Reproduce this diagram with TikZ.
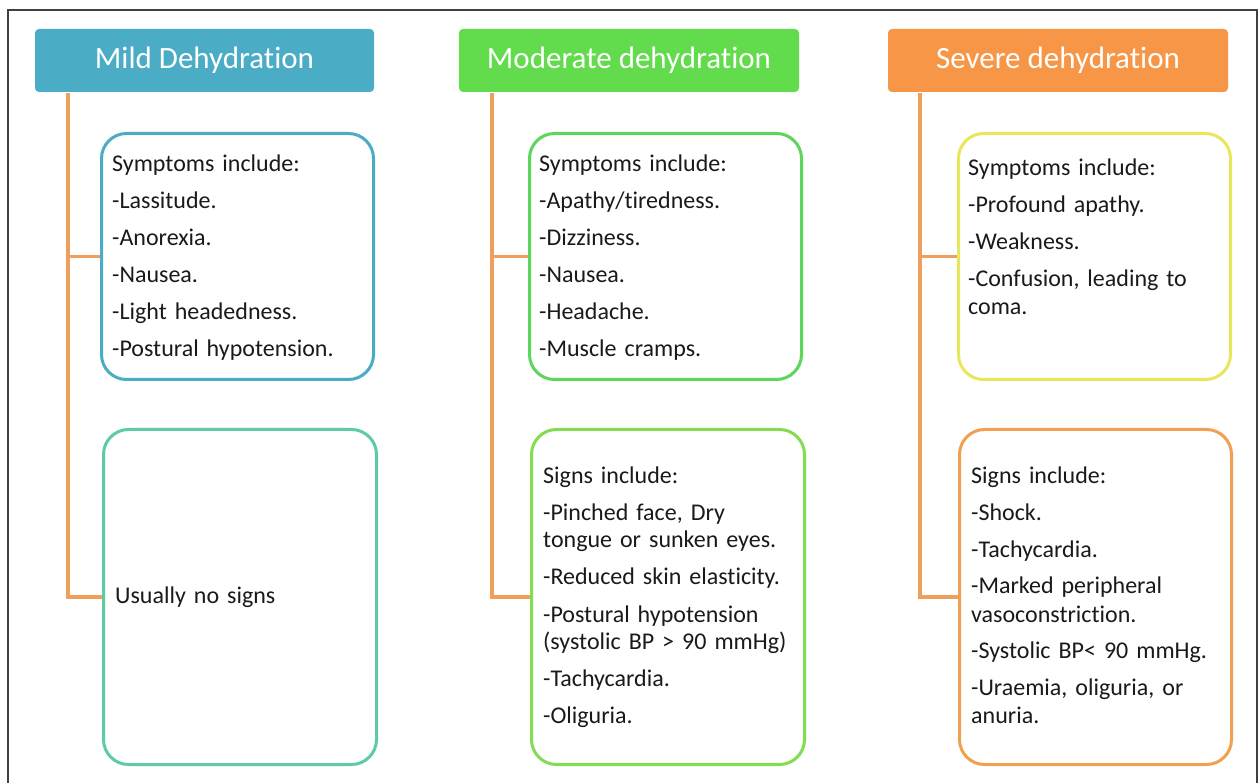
\documentclass[tikz,border=0pt]{standalone}
\usepackage{fontspec}
\setmainfont{Carlito}[Ligatures=NoCommon]
\definecolor{hmild}{HTML}{4BACC6}
\definecolor{hmod}{HTML}{62DC4C}
\definecolor{hsev}{HTML}{F79646}
\definecolor{conn}{HTML}{EE9F5C}
\definecolor{bA}{HTML}{4BACC6}
\definecolor{bB}{HTML}{5DCCA0}
\definecolor{bC}{HTML}{5CD65C}
\definecolor{bD}{HTML}{84DC50}
\definecolor{bE}{HTML}{E6E85A}
\definecolor{bF}{HTML}{F0A050}
\definecolor{txt}{HTML}{1A1A1A}
\definecolor{framec}{HTML}{404040}
\tikzset{
  header/.style={fill=#1, rounded corners=4pt, minimum height=63pt, text=white,
    font=\fontsize{31}{36}\selectfont, inner sep=0pt},
  infobox/.style={draw=#1, line width=3pt, rounded corners=25pt, inner sep=0pt},
  listtext/.style={anchor=base west, inner sep=0pt, text width=270pt, align=left,
    text=txt, font=\fontsize{24}{28}\selectfont},
  connline/.style={draw=conn, line width=3.5pt},
  framestyle/.style={draw=framec, line width=1.5pt}
}
\begin{document}
\begin{tikzpicture}[x=1pt,y=-1pt]
\useasboundingbox (0,0) rectangle (1259,783);
\fill[white] (0,0) rectangle (1259,783);
\draw[framestyle] (8,783) -- (8,10) -- (1257,10) -- (1257,783);

% headers
\node[header=hmild, minimum width=339pt] (h1) at (204.5,60.5) {Mild Dehydration};
\node[header=hmod, minimum width=340pt] (h2) at (629,60.5) {Moderate dehydration};
\node[header=hsev, minimum width=340pt] (h3) at (1058,60.5) {Severe dehydration};

% boxes
\node[infobox=bA, minimum width=272pt, minimum height=246pt] (s1) at (237.5,256.5) {};
\node[infobox=bB, minimum width=273pt, minimum height=335pt] (g1) at (240,597) {};
\node[infobox=bC, minimum width=272pt, minimum height=246pt] (s2) at (665.5,256.5) {};
\node[infobox=bD, minimum width=273pt, minimum height=335pt] (g2) at (668,597) {};
\node[infobox=bE, minimum width=272pt, minimum height=246pt] (s3) at (1094.5,256.5) {};
\node[infobox=bF, minimum width=272pt, minimum height=335pt] (g3) at (1095.5,597) {};

% connectors
\coordinate (t1) at (68,93);
\coordinate (t2) at (492,93);
\coordinate (t3) at (920,93);
\draw[connline] (t1) |- (s1.west);
\draw[connline] (t1) |- (g1.west);
\draw[connline] (t2) |- (s2.west);
\draw[connline] (t2) |- (g2.west);
\draw[connline] (t3) |- (s3.west);
\draw[connline] (t3) |- (g3.west);

% texts
\node[listtext] (x1) at (112,172) {Symptoms include:\\[9pt]-Lassitude.\\[9pt]-Anorexia.\\[9pt]-Nausea.\\[9pt]-Light headedness.\\[9pt]-Postural hypotension.};
\node[listtext] (x2) at (115,603) {Usually no signs};
\node[listtext] (x3) at (539,172) {Symptoms include:\\[9pt]-Apathy/tiredness.\\[9pt]-Dizziness.\\[9pt]-Nausea.\\[9pt]-Headache.\\[9pt]-Muscle cramps.};
\node[listtext] (x4) at (543,483) {Signs include:\\[9pt]-Pinched face, Dry\\tongue or sunken eyes.\\[9pt]-Reduced skin elasticity.\\[9pt]-Postural hypotension\\(systolic BP > 90 mmHg)\\[9pt]-Tachycardia.\\[9pt]-Oliguria.};
\node[listtext] (x5) at (968,176) {Symptoms include:\\[9pt]-Profound apathy.\\[9pt]-Weakness.\\[9pt]-Confusion, leading to\\coma.};
\node[listtext] (x6) at (971,483) {Signs include:\\[9pt]-Shock.\\[9pt]-Tachycardia.\\[9pt]-Marked peripheral\\vasoconstriction.\\[9pt]-Systolic BP< 90 mmHg.\\[9pt]-Uraemia, oliguria, or\\anuria.};
\end{tikzpicture}
\end{document}
